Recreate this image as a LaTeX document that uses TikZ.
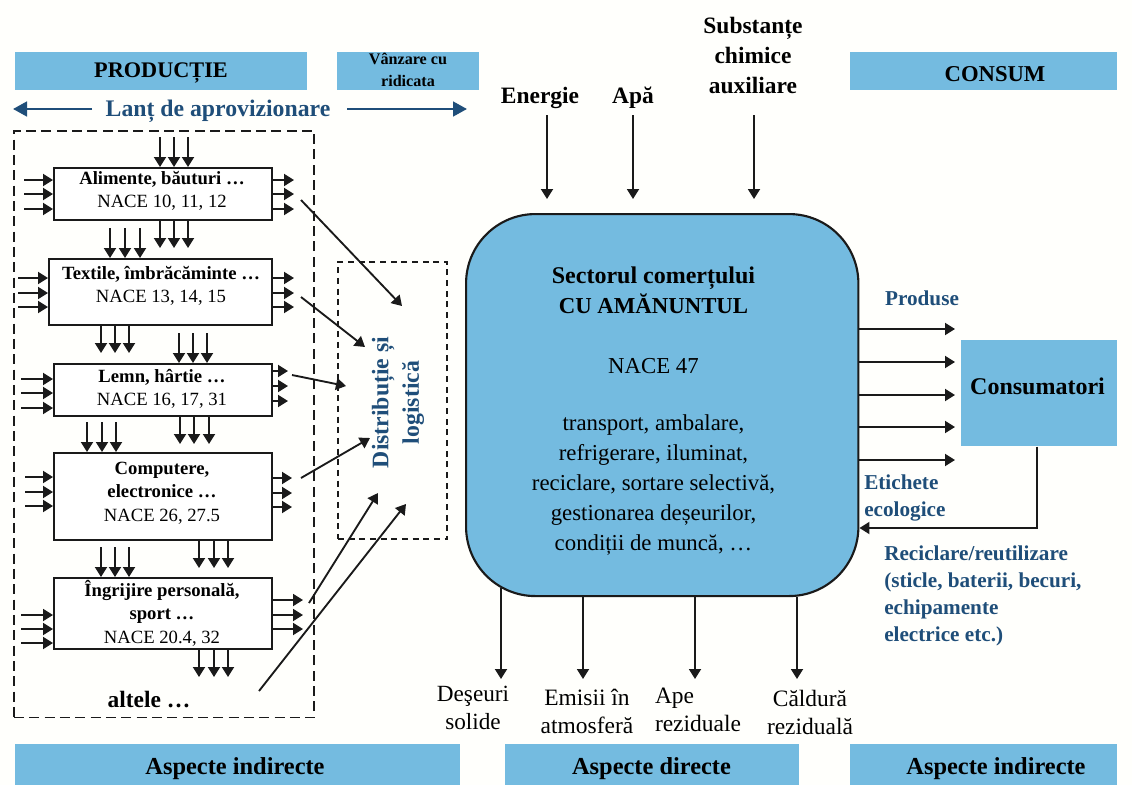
\documentclass[tikz,border=0pt]{standalone}
\usepackage{fontspec}
\setmainfont{Liberation Serif}
\usetikzlibrary{arrows.meta,calc}
\definecolor{barblue}{HTML}{74BBE0}
\definecolor{navy}{HTML}{1F4E79}
\definecolor{ink}{HTML}{1A1A1A}
\newcommand\fs[2]{\fontsize{#1}{#2}\selectfont}
\tikzset{
  arr/.style={draw=ink,line width=1.4pt,-{Triangle[length=7.5pt,width=9pt]}},
  bigarr/.style={draw=navy,line width=1.9pt,-{Triangle[length=10.5pt,width=11pt]}},
  bar/.style={fill=barblue,draw=none,inner sep=0pt},
  bartxt/.style={inner sep=0pt,align=center,text=black,font=\bfseries\fs{18.3}{22}},
  box/.style={draw=ink,line width=1.4pt,fill=white,inner sep=0pt},
  boxtxt/.style={align=center,inner sep=0pt,text=black,font=\fs{14}{17.5}},
  lbl/.style={align=center,inner sep=0pt,text=black,font=\fs{17.5}{21.5}},
  blbl/.style={lbl,font=\bfseries\fs{17.6}{22.5}},
  nlbl/.style={align=left,inner sep=0pt,text=navy,font=\bfseries\fs{15.9}{20.2}},
}
\newcommand\inT[3]{\foreach \x in {#2}{\draw[arr] (\x,#3) -- (#1.north -| \x,#3);}}
\newcommand\outB[3]{\foreach \x in {#2}{\draw[arr] (#1.south -| \x,#3) -- (\x,#3);}}
\newcommand\inL[3]{\foreach \y in {#2}{\draw[arr] (#3,\y) -- (#1.west |- #3,\y);}}
\newcommand\outR[3]{\foreach \y in {#2}{\draw[arr] (#1.east |- #3,\y) -- (#3,\y);}}
\begin{document}
\begin{tikzpicture}[x=0.75pt,y=-0.75pt]
\useasboundingbox[fill=white!99!yellow] (0,0) rectangle (1132,785);
% header bars
\node[bar,minimum width=219pt,minimum height=28.5pt,anchor=north west] (prod) at (15,52) {};
\node[bar,minimum width=106.5pt,minimum height=28.5pt,anchor=north west] (vanz) at (337,52) {};
\node[bar,minimum width=200.25pt,minimum height=28.5pt,anchor=north west] (cons) at (850,52) {};
\node[bartxt,font=\bfseries\fs{16.7}{20},text depth=0pt] (prodt) at (161,70) {PRODUCȚIE};
\node[bartxt,font=\bfseries\fs{12.1}{16.5}] (vanzt) at (408,70) {Vânzare cu\\ridicata};
\node[bartxt,font=\bfseries\fs{17}{20}] (const) at (995,74) {CONSUM};
% bottom bars
\node[bar,minimum width=333.75pt,minimum height=30.75pt,anchor=north west] (b1) at (15,744) {};
\node[bar,minimum width=220.5pt,minimum height=30.75pt,anchor=north west] (b2) at (505,744) {};
\node[bar,minimum width=200.25pt,minimum height=30.75pt,anchor=north west] (b3) at (850,744) {};
\node[bartxt,text depth=0pt] (b1t) at (235,766) {Aspecte indirecte};
\node[bartxt,text depth=0pt] (b2t) at (651.5,766) {Aspecte directe};
\node[bartxt,text depth=0pt] (b3t) at (996,766) {Aspecte indirecte};
% supply chain
\node[inner sep=0pt,text=navy,font=\bfseries\fs{17.8}{22}] (lant) at (218,111) {Lanț de aprovizionare};
\coordinate (lL0) at (92,109); \coordinate (lL1) at (13,109);
\coordinate (lR0) at (347,109); \coordinate (lR1) at (467,109);
\draw[bigarr] (lL0) -- (lL1);
\draw[bigarr] (lR0) -- (lR1);
% dashed groups
\node[draw=ink,line width=1.3pt,dash pattern=on 7.5pt off 4pt,minimum width=225.25pt,minimum height=440pt,anchor=north west,inner sep=0pt] (group) at (13,130) {};
\node[draw=ink,line width=1.3pt,dash pattern=on 4.5pt off 3.5pt,minimum width=82pt,minimum height=208pt,anchor=north west,inner sep=0pt] (dist) at (337,261) {};
\node[rotate=90,align=center,inner sep=0pt,text=navy,font=\bfseries\fs{17.8}{23}] (distlbl) at (398,402.5) {Distribuție și\\logistică};
% industry boxes
\node[box,minimum width=163.5pt,minimum height=39pt,anchor=north west] (al) at (53,167) {};
\node[box,minimum width=167.25pt,minimum height=49.5pt,anchor=north west] (te) at (48,258) {};
\node[box,minimum width=163.5pt,minimum height=39pt,anchor=north west] (le) at (53,363) {};
\node[box,minimum width=163.5pt,minimum height=65.25pt,anchor=north west] (co) at (53,452) {};
\node[box,minimum width=163.5pt,minimum height=53.25pt,anchor=north west] (in) at (53,577) {};
\node[boxtxt] (alt) at (162,191) {\textbf{Alimente, băuturi …}\\NACE 10, 11, 12};
\node[boxtxt] (tet) at (161,286) {\textbf{Textile, îmbrăcăminte …}\\NACE 13, 14, 15};
\node[boxtxt] (let) at (162,389) {\textbf{Lemn, hârtie …}\\NACE 16, 17, 31};
\node[boxtxt] (cot) at (162,493) {\textbf{Computere,}\\\textbf{electronice …}\\NACE 26, 27.5};
\node[boxtxt] (int) at (162,613) {\textbf{Îngrijire personală,}\\\textbf{sport …}\\NACE 20.4, 32};
\node[inner sep=0pt,font=\bfseries\fs{17.6}{20}] (altele) at (149,700) {altele …};
% short arrows
\inT{al}{160,174,188}{137}
\inL{al}{180,194,209}{24}
\outR{al}{180,194,209}{294}
\outB{al}{160,174,188}{248}
\inT{te}{110,125,140}{228}
\inL{te}{278,293,307}{18}
\outR{te}{278,293,307}{294}
\outB{te}{101,115,129}{353}
\inT{le}{179,193,207}{333}
\inL{le}{379,393,408}{21}
\outR{le}{371,386,401}{288}
\outB{le}{180,194,209}{444}
\inT{co}{87,102,116}{422}
\inL{co}{477,492,506}{25}
\outR{co}{478,493,507}{292}
\outB{co}{199,214,228}{568}
\inT{in}{101,115,129}{547}
\inL{in}{615,629,643}{21}
\outR{in}{600,615,629}{303}
\outB{in}{199,214,228}{677}
% long arrows
\coordinate (a1) at (301,200); \coordinate (a1e) at (402,306);
\coordinate (a2) at (301,297); \coordinate (a2e) at (365,347);
\coordinate (a3) at (292,375); \coordinate (a3e) at (346,386);
\coordinate (a4) at (301,478); \coordinate (a4e) at (370,438);
\coordinate (a5) at (309,603); \coordinate (a5e) at (378,493);
\coordinate (a6) at (259,691); \coordinate (a6e) at (406,504);
\foreach \i in {1,...,6}{\draw[arr] (a\i) -- (a\i e);}
% retail
\node[fill=barblue,draw=ink,line width=1.6pt,rounded corners=52pt,minimum width=294.25pt,minimum height=286.5pt,anchor=north west,inner sep=0pt] (ret) at (465,213) {};
\node[lbl,anchor=north,font=\fs{17.1}{22.5}] (rett) at (653.5,267) {\textbf{\fs{18}{22.5}Sectorul comerțului}\\\textbf{CU AMĂNUNTUL}\\[22.5pt]NACE 47\\[20pt]transport, ambalare,\\refrigerare, iluminat,\\reciclare, sortare selectivă,\\gestionarea deșeurilor,\\condiții de muncă, …};
% inputs
\node[blbl] (en) at (540,98) {Energie};
\node[blbl] (ap) at (633,98) {Apă};
\node[blbl] (su) at (753,56) {Substanțe\\chimice\\auxiliare};
\coordinate (i1) at (547,115); \coordinate (i2) at (633,115); \coordinate (i3) at (754,115);
\coordinate (i1e) at (547,199); \coordinate (i2e) at (633,199); \coordinate (i3e) at (754,199);
\draw[arr] (i1) -- (i1e);
\draw[arr] (i2) -- (i2e);
\draw[arr] (i3) -- (i3e);
% outputs
\node[fill=barblue,minimum width=117pt,minimum height=79.5pt,anchor=north west,inner sep=0pt] (cm) at (961,340) {};
\node[inner sep=0pt,font=\bfseries\fs{18}{20}] (cmt) at (1037.5,386) {Consumatori};
\foreach \y in {329,362,395,427,460}{\draw[arr] (ret.east |- 858,\y) -- (955,\y);}
\coordinate (rb) at (1037,528);
\draw[arr] (cm.south -| rb) -- (rb) -- (ret.east |- rb);
\node[nlbl] (pr) at (922,298) {Produse};
\node[nlbl,anchor=north west] (et) at (864,475) {Etichete\\ecologice};
\node[nlbl,anchor=north west] (re) at (884,546) {Reciclare/reutilizare\\(sticle, baterii, becuri,\\echipamente\\electrice etc.)};
% bottom outputs
\foreach \n/\x/\d in {1/501/9,2/583/0,3/695/0,4/797/0}{
  \coordinate (w\n) at (\x,679);
  \draw[arr] ($(ret.south -| w\n)+(0,-\d)$) -- (w\n);}
\node[lbl,font=\fs{17.4}{20.5}] (d1) at (473,708) {Deşeuri\\solide};
\node[lbl,font=\fs{17.6}{21}] (d2) at (587,711) {Emisii în\\atmosferă};
\node[lbl,align=left,font=\fs{17.6}{21}] (d3) at (698,710) {Ape\\reziduale};
\node[lbl,font=\fs{17.6}{21.5}] (d4) at (810,712.5) {Căldură\\reziduală};
\end{tikzpicture}
\end{document}
